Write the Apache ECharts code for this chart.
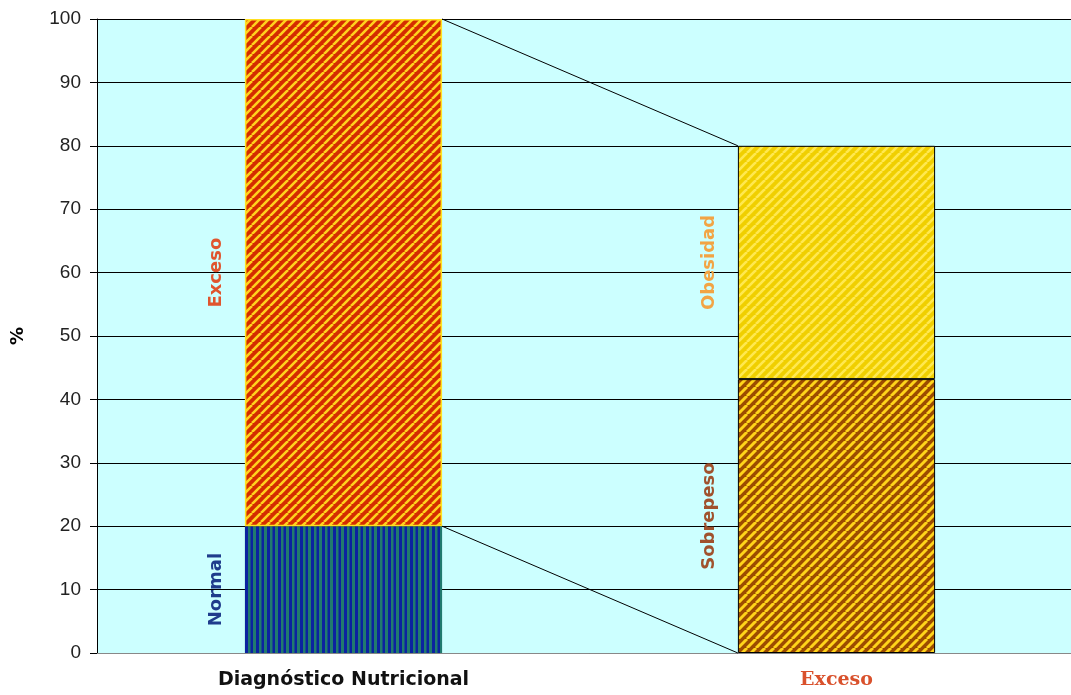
<!DOCTYPE html>
<html>
<head>
<meta charset="utf-8">
<script src="https://cdn.jsdelivr.net/npm/echarts@6/dist/echarts.min.js"></script>
<style>
html,body{margin:0;padding:0;background:#fff;overflow:hidden;}
#c{width:1083px;height:695px;}
</style>
</head>
<body>
<div id="c"></div>
<script>
// ---- data ----
var categories = ['Diagnóstico Nutricional', 'Exceso'];
var normalVals = [20, '-'];
var excesoVals = [80, '-'];
var sobrepesoVals = ['-', 43.2];
var obesidadVals = ['-', 36.8];
var yTicks = [0, 10, 20, 30, 40, 50, 60, 70, 80, 90, 100];

// ---- patterns ----
function diagPattern(bg, fg, size, lw) {
  var c = document.createElement('canvas');
  c.width = size; c.height = size;
  var g = c.getContext('2d');
  g.fillStyle = bg; g.fillRect(0, 0, size, size);
  g.strokeStyle = fg; g.lineWidth = lw;
  for (var k = -1; k <= 1; k++) {
    g.beginPath();
    g.moveTo(k * size, size);
    g.lineTo(k * size + size, 0);
    g.stroke();
  }
  return { image: c, repeat: 'repeat' };
}
function vertPattern(bg, fg) {
  var c = document.createElement('canvas');
  c.width = 11; c.height = 11;
  var g = c.getContext('2d');
  g.fillStyle = bg; g.fillRect(0, 0, 11, 11);
  g.fillStyle = fg; g.fillRect(0, 0, 3, 11); g.fillRect(6, 0, 2.5, 11);
  return { image: c, repeat: 'repeat' };
}

var chart = echarts.init(document.getElementById('c'), null, { renderer: 'canvas' });

function num(v) { return typeof v === 'number' ? v : 0; }
var bar1Top = num(normalVals[0]) + num(excesoVals[0]);
var bar1Split = num(normalVals[0]);
var bar2Top = num(sobrepesoVals[1]) + num(obesidadVals[1]);
var connectors = [[0, bar1Top, 1, bar2Top], [0, bar1Split, 1, 0]];
var BAR_FRAC = 0.4;

function segLabel(color) {
  return {
    show: true,
    position: 'left',
    distance: 20,
    rotate: 90,
    align: 'center',
    verticalAlign: 'bottom',
    formatter: '{a}',
    color: color,
    fontFamily: 'DejaVu Sans',
    fontWeight: 'bold',
    fontSize: 18
  };
}

chart.setOption({
  animation: false,
  backgroundColor: '#ffffff',
  grid: {
    left: 97, top: 19, bottom: 42, right: 0,
    show: true, backgroundColor: '#ccffff', borderWidth: 0
  },
  xAxis: {
    type: 'category',
    data: [
      { value: categories[0], textStyle: { color: '#111', fontFamily: 'DejaVu Sans', fontWeight: 'bold', fontSize: 19 } },
      { value: categories[1], textStyle: { color: '#d9512c', fontFamily: 'DejaVu Serif', fontWeight: 'bold', fontSize: 19 } }
    ],
    axisLine: { lineStyle: { color: '#888', width: 1 } },
    axisTick: { show: false },
    axisLabel: { margin: 18 },
    splitLine: { show: false }
  },
  yAxis: {
    type: 'value',
    min: yTicks[0], max: yTicks[yTicks.length - 1], interval: yTicks[1] - yTicks[0],
    name: '%',
    nameLocation: 'middle',
    nameRotate: 90,
    nameGap: 70,
    nameTextStyle: { color: '#000', fontFamily: 'DejaVu Sans', fontWeight: 'bold', fontSize: 18 },
    axisLine: { show: true, lineStyle: { color: '#000', width: 1 } },
    axisTick: { show: true, inside: false, length: 7, lineStyle: { color: '#000' } },
    axisLabel: { color: '#222', fontFamily: 'Liberation Sans', fontSize: 19, margin: 16 },
    splitLine: { show: true, lineStyle: { color: '#000', width: 1 } }
  },
  series: [
    {
      name: 'Normal', type: 'bar', stack: 's', barWidth: (BAR_FRAC * 100) + '%',
      data: normalVals,
      itemStyle: { color: vertPattern('#0b22a0', '#217a6e'), borderWidth: 0 },
      label: segLabel('#1f3c8c')
    },
    {
      name: 'Exceso', type: 'bar', stack: 's',
      data: excesoVals,
      itemStyle: { color: diagPattern('#d42c00', '#ffd21e', 9, 2.6), borderColor: '#ffe020', borderWidth: 1.5 },
      label: segLabel('#e0552e')
    },
    {
      name: 'Sobrepeso', type: 'bar', stack: 's',
      data: sobrepesoVals,
      itemStyle: { color: diagPattern('#9c4c00', '#ffd41a', 9, 3), borderColor: '#000', borderWidth: 1 },
      label: segLabel('#a0522d')
    },
    {
      name: 'Obesidad', type: 'bar', stack: 's',
      data: obesidadVals,
      itemStyle: { color: diagPattern('#f0cf00', '#ffe850', 9, 2.6), borderColor: '#000', borderWidth: 1 },
      label: segLabel('#f2a444')
    },
    {
      name: 'conectores', type: 'custom',
      data: connectors,
      encode: { x: [0, 2], y: [1, 3] },
      z: 5,
      renderItem: function (params, api) {
        var bw = api.size([1, 0])[0] * BAR_FRAC;
        var p0 = api.coord([api.value(0), api.value(1)]);
        var p1 = api.coord([api.value(2), api.value(3)]);
        return {
          type: 'line',
          shape: { x1: p0[0] + bw / 2, y1: p0[1], x2: p1[0] - bw / 2, y2: p1[1] },
          style: { stroke: '#000', lineWidth: 1 }
        };
      }
    }
  ]
});
</script>
</body>
</html>
